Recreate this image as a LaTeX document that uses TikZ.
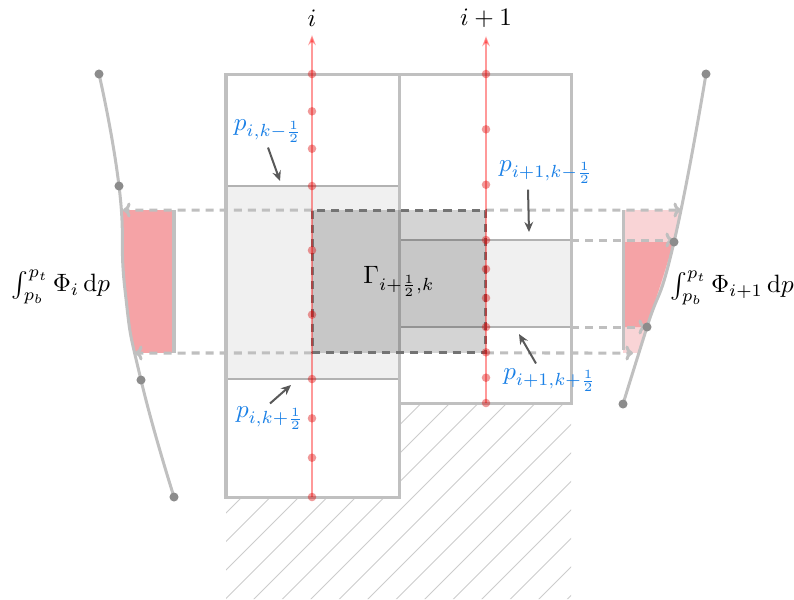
\documentclass[tikz,border=0pt]{standalone}
\usepackage{xcolor}
\definecolor{cellgray}{RGB}{192,192,192}
\definecolor{bandgray}{RGB}{240,240,240}
\definecolor{lblblue}{RGB}{26,128,230}
\definecolor{phipink}{RGB}{245,163,166}
\definecolor{philight}{RGB}{249,212,214}
\usepackage{tikz}
\usetikzlibrary{
  arrows.meta,
  calc
}

\begin{document}
\begin{tikzpicture}[x=0.014cm, y=-0.014cm,
  cell/.style={draw=cellgray, line width=1.2pt},
  band/.style={draw=black!30, fill=bandgray, line width=0.8pt},
  hatch/.style={draw=black!20, line width=0.4pt},
  proj/.style={draw=black!25, dashed, dash pattern=on 3.2pt off 2.4pt, line width=1.2pt, -{To[length=3pt,width=6pt]}},
  gambox/.style={draw=black!55, dash pattern=on 3.2pt off 2.4pt, line width=1.2pt, fill=black, fill opacity=0.17, text opacity=1, minimum width=2.436cm, minimum height=2.002cm, inner sep=0pt, outer sep=0pt},
  col/.style={draw=red, opacity=0.4, line width=0.8pt, -{Stealth[length=4pt,width=3pt]}},
  lvl/.style={circle, fill=red!85!black, fill opacity=0.4, inner sep=0pt, minimum size=3.4pt},
  prof/.style={draw=cellgray, line width=1.2pt},
  knot/.style={circle, fill=black!45, inner sep=0pt, minimum size=3.6pt},
  plbl/.style={text=lblblue, inner sep=1pt},
  ptr/.style={draw=black!65, line width=0.8pt, -{Stealth[length=4pt,width=3.5pt]}}
]
  \useasboundingbox (0,0) rectangle (794,599);

  % ground below the columns
  \begin{scope}
    \clip (226,497) -- (399,497) -- (399,403) -- (571,403) -- (571,599) -- (226,599) -- cycle;
    \foreach \c in {739,767.5,...,1170} {
      \draw[hatch] ({\c-600},600) -- ({\c-390},390);
    }
  \end{scope}

  % grid cells
  \draw[band] (226,186) rectangle (399,379);
  \draw[band] (399,240) rectangle (571,327);
  \draw[cell] (226,74) rectangle (399,497);
  \draw[cell] (399,74) rectangle (571,403);

  % integrals of Phi over the layer
  \begin{scope}
    \clip plot[smooth, tension=0.9] coordinates {(99,74) (119,186) (125,290) (141,380) (174,497)} -- (300,497) -- (300,74) -- cycle;
    \fill[phipink] (90,210) rectangle (174,353);
  \end{scope}
  \begin{scope}
    \clip plot[smooth, tension=0.9] coordinates {(706,74) (674,242) (647,327) (623,404)} -- (560,404) -- (560,74) -- cycle;
    \fill[philight] (623,210) rectangle (720,353);
    \fill[phipink] (623,242) -- (674,242) -- (647,327) -- (623,327) -- cycle;
  \end{scope}
  \draw[prof] (174,210) -- (174,353);
  \draw[prof] (623,210) -- (623,350);

  % control volume
  \node[gambox] (gam) at (399,281.5) {$\Gamma_{i+\frac{1}{2},k}$};

  \coordinate (lt) at (123,210);
  \coordinate (lb) at (135,353);
  \coordinate (rt) at (681,210);
  \coordinate (rb) at (633,353);
  \coordinate (bt) at (571,240);
  \coordinate (bb) at (571,327);
  \coordinate (rbt) at (673,240);
  \coordinate (rbb) at (646,327);
  \draw[proj] (gam.north west) -- (lt);
  \draw[proj] (gam.south west) -- (lb);
  \draw[proj] (gam.north east) -- (rt);
  \draw[proj] (gam.south east) -- (rb);
  \draw[proj] (bt) -- (rbt);
  \draw[proj] (bb) -- (rbb);
  \node[gambox, fill opacity=0] at (399,281.5) {};

  % columns and their levels
  \node (ci) at (312,18) {$i$};
  \node (cip) at (486,18) {$i+1$};
  \coordinate (bi) at (312,497);
  \coordinate (bip) at (486,403);
  \draw[col] (bi) -- (ci);
  \draw[col] (bip) -- (cip);
  \foreach \y in {74,111.3,148.7,186,250.3,314.7,379,418.3,457.7,497} {
    \node[lvl] at (312,\y) {};
  }
  \foreach \y in {74,129.3,184.7,240,269,298,327,352.3,377.7,403} {
    \node[lvl] at (486,\y) {};
  }

  % Phi profiles
  \draw[prof] plot[smooth, tension=0.9] coordinates {(99,74) (119,186) (125,290) (141,380) (174,497)};
  \draw[prof] plot[smooth, tension=0.9] coordinates {(706,74) (674,242) (647,327) (623,404)};
  \foreach \p in {(99,74),(119,186),(141,380),(174,497),(706,74),(674,242),(647,327),(623,404)} {
    \node[knot] at \p {};
  }

  \node (intL) at (61,287) {$\int_{p_b}^{p_t} \Phi_i \,\mathrm{d}p$};
  \node (intR) at (732,288) {$\int_{p_b}^{p_t} \Phi_{i+1} \,\mathrm{d}p$};

  % interface pressures
  \node[plbl] (pA) at (268,131) {$p_{i,k-\frac{1}{2}}$};
  \node[plbl] (pB) at (546,172) {$p_{i+1,k-\frac{1}{2}}$};
  \node[plbl] (pC) at (550,380) {$p_{i+1,k+\frac{1}{2}}$};
  \node[plbl] (pD) at (270,418) {$p_{i,k+\frac{1}{2}}$};
  \coordinate (tA) at (280,181);
  \coordinate (tB) at (529,232);
  \coordinate (tC) at (519,334);
  \coordinate (tD) at (291,385);
  \draw[ptr] ($(pA.south)+(0,2)$) -- (tA);
  \draw[ptr] ($(pB.south)+(-18,3)$) -- (tB);
  \draw[ptr] ($(pC.north)+(-14,-2)$) -- (tC);
  \draw[ptr] (pD.north) -- (tD);
\end{tikzpicture}
\end{document}
